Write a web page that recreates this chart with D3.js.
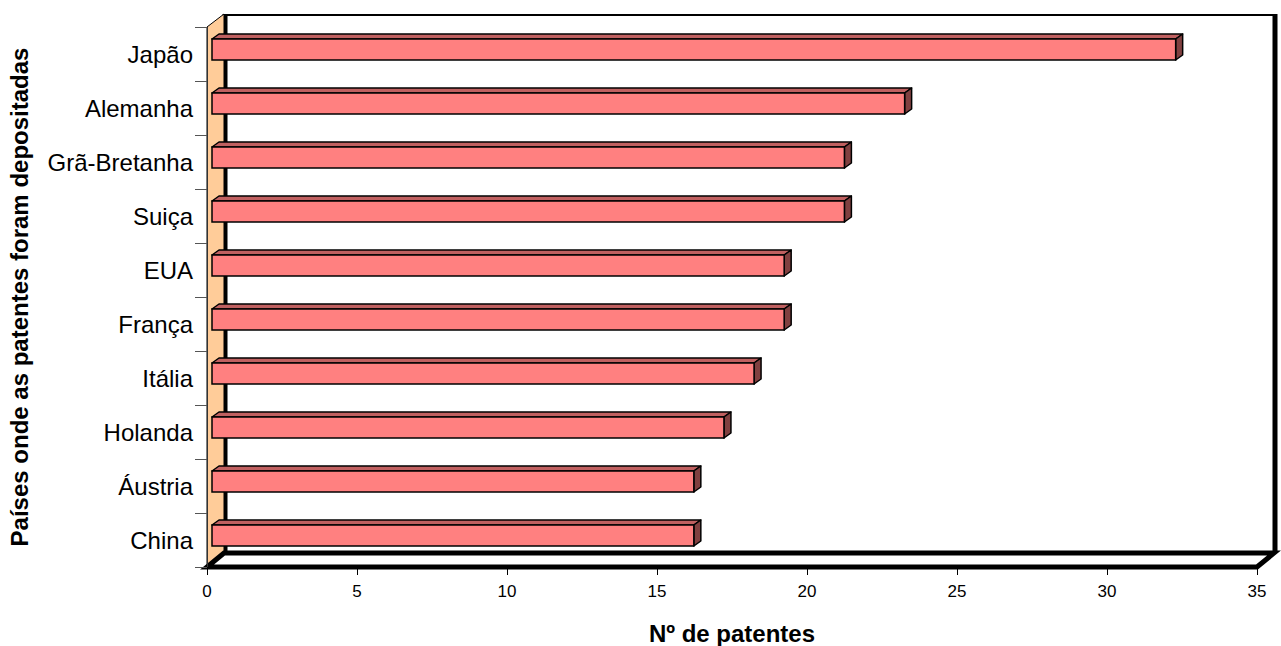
<!DOCTYPE html>
<html>
<head>
<meta charset="utf-8">
<script src="https://cdn.jsdelivr.net/npm/d3@7"></script>
<style>
  html, body { margin: 0; padding: 0; background: #fff; }
  svg { display: block; font-family: "Liberation Sans", Arial, sans-serif; }
</style>
</head>
<body>
<svg id="chart" width="1281" height="646"></svg>
<script>
const categories = ["Japão", "Alemanha", "Grã-Bretanha", "Suiça", "EUA", "França", "Itália", "Holanda", "Áustria", "China"];
const values = [32, 23, 21, 21, 19, 19, 18, 17, 16, 16];
const xTicks = [0, 5, 10, 15, 20, 25, 30, 35];
const xTitle = "Nº de patentes";
const yTitle = "Países onde as patentes foram depositadas";

(function () {
const svg = d3.select("#chart");
const x = d3.scaleLinear().domain([0, 35]).range([207, 1257]);
// bars sit a little behind the front plane, so they use a slightly shifted scale
const xBar = d3.scaleLinear().domain([0, 35]).range([212, 1266]);
const y = d3.scaleBand().domain(categories).range([27, 567]);

const plotTop = y.range()[0], plotBottom = y.range()[1];
const plotLeft = x(0), plotRight = x(35);
const dx = 17, dy = -14;          // wall depth
const bdx = 7, bdy = -5;          // bar depth
const pts = a => a.map(p => p.join(",")).join(" ");

// back wall
svg.append("rect").attr("x", plotLeft + dx).attr("y", 14)
  .attr("width", plotRight - plotLeft).attr("height", plotBottom + dy - 14)
  .attr("fill", "#fff");
svg.append("line").attr("x1", plotLeft + dx).attr("x2", plotRight + dx).attr("y1", 15).attr("y2", 15)
  .attr("stroke", "#000").attr("stroke-width", 2);
svg.append("line").attr("x1", plotLeft + dx + 1).attr("x2", plotLeft + dx + 1).attr("y1", 14).attr("y2", plotBottom + dy)
  .attr("stroke", "#000").attr("stroke-width", 5);
svg.append("line").attr("x1", plotRight + dx + 1).attr("x2", plotRight + dx + 1).attr("y1", 14).attr("y2", plotBottom + dy)
  .attr("stroke", "#000").attr("stroke-width", 5);

// left side wall
svg.append("polygon")
  .attr("points", pts([[plotLeft, plotTop], [plotLeft + dx, 14], [plotLeft + dx, plotBottom + dy], [plotLeft, plotBottom]]))
  .attr("fill", "#FFCC99").attr("stroke", "#000").attr("stroke-width", 1);

// floor
svg.append("polygon")
  .attr("points", pts([[plotLeft, plotBottom], [plotRight, plotBottom], [plotRight + dx, plotBottom + dy], [plotLeft + dx, plotBottom + dy]]))
  .attr("fill", "#fff").attr("stroke", "#000").attr("stroke-width", 5).attr("stroke-linejoin", "miter");

// category axis line + ticks
svg.append("line").attr("x1", plotLeft + 0.5).attr("x2", plotLeft + 0.5).attr("y1", plotTop).attr("y2", plotBottom)
  .attr("stroke", "#333").attr("stroke-width", 1);
const yTickPos = categories.map(c => y(c)).concat([plotBottom]);
svg.append("g").selectAll("line").data(yTickPos).join("line")
  .attr("x1", 195).attr("x2", plotLeft).attr("y1", d => Math.round(d) + 0.5).attr("y2", d => Math.round(d) + 0.5)
  .attr("stroke", "#555").attr("stroke-width", 1);

// bars
const data = categories.map((c, i) => ({ c, v: values[i] }));
const g = svg.append("g");
data.forEach(d => {
  const fx0 = xBar(0), fx1 = xBar(d.v);
  const fy0 = y(d.c) + 12, fy1 = fy0 + 21;
  g.append("polygon")
    .attr("points", pts([[fx0, fy0], [fx0 + bdx, fy0 + bdy], [fx1 + bdx, fy0 + bdy], [fx1, fy0]]))
    .attr("fill", "#C06060").attr("stroke", "#000").attr("stroke-width", 1.5).attr("stroke-linejoin", "round");
  g.append("polygon")
    .attr("points", pts([[fx1, fy0], [fx1 + bdx, fy0 + bdy], [fx1 + bdx, fy1 + bdy], [fx1, fy1]]))
    .attr("fill", "#804040").attr("stroke", "#000").attr("stroke-width", 1.5).attr("stroke-linejoin", "round");
  g.append("rect").attr("x", fx0).attr("y", fy0).attr("width", fx1 - fx0).attr("height", fy1 - fy0)
    .attr("fill", "#FF8080").attr("stroke", "#000").attr("stroke-width", 1.5);
});

// category labels
svg.append("g").selectAll("text").data(categories).join("text")
  .attr("x", 193).attr("y", d => y(d) + y.bandwidth() / 2)
  .attr("text-anchor", "end").attr("dominant-baseline", "central")
  .attr("font-size", 24).attr("fill", "#000").text(d => d);

// x ticks + labels
svg.append("g").selectAll("line").data(xTicks).join("line")
  .attr("x1", d => Math.round(x(d)) + 0.5).attr("x2", d => Math.round(x(d)) + 0.5)
  .attr("y1", plotBottom + 2).attr("y2", plotBottom + 8)
  .attr("stroke", "#000").attr("stroke-width", 1);
svg.append("g").selectAll("text").data(xTicks).join("text")
  .attr("x", d => x(d)).attr("y", 597)
  .attr("text-anchor", "middle").attr("font-size", 17).attr("fill", "#000").text(d => d);

// axis titles
svg.append("text").attr("x", 732).attr("y", 642).attr("text-anchor", "middle")
  .attr("font-size", 24).attr("font-weight", "bold").attr("fill", "#000").text(xTitle);
svg.append("text").attr("transform", "translate(28,297) rotate(-90)").attr("text-anchor", "middle")
  .attr("font-size", 24).attr("font-weight", "bold").attr("fill", "#000").text(yTitle);
})();
</script>
</body>
</html>
